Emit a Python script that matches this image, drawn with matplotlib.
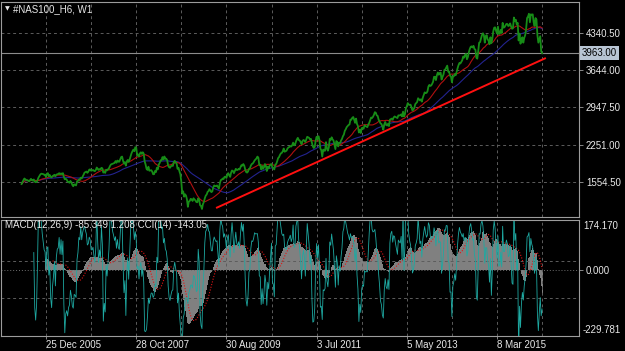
import numpy as np
import pandas as pd
from matplotlib import pyplot as plt
from matplotlib import transforms

plt.rcParams['font.family'] = ['Liberation Sans', 'DejaVu Sans']

# weekly closes, one list per year (bar 0 = week of 25 Dec 2005)
close_2005 = [1517, 1553, 1590, 1620, 1605, 1590, 1590, 1580, 1567, 1588, 1613, 1590, 1580, 1601,
              1560, 1550, 1555, 1590, 1637, 1668, 1695, 1710, 1707, 1702, 1690, 1692, 1645]
close_2006 = [1710, 1720, 1660, 1685, 1650, 1640, 1665, 1675, 1690, 1660, 1690, 1700, 1703,
              1720, 1700, 1715, 1701, 1720, 1650, 1605, 1615, 1600, 1560, 1555, 1540, 1575,
              1545, 1500, 1475, 1510, 1500, 1490, 1565, 1575, 1600, 1595, 1635, 1620, 1655,
              1690, 1730, 1740, 1750, 1725, 1745, 1785, 1790, 1765, 1770, 1780, 1765, 1757]
close_2007 = [1780, 1825, 1800, 1780, 1795, 1790, 1820, 1810, 1730, 1745, 1725, 1785, 1772,
              1790, 1810, 1850, 1880, 1890, 1895, 1905, 1910, 1945, 1915, 1955, 1935, 1934,
              1975, 2020, 2030, 1950, 1900, 1925, 1860, 1940, 1966, 1930, 1975, 2035, 2091,
              2130, 2160, 2130, 2205, 2200, 2050, 2070, 2030, 2090, 2110, 2080, 2110, 2085]
close_2008 = [1940, 1880, 1800, 1780, 1840, 1765, 1770, 1775, 1750, 1700, 1700, 1760, 1740,
              1820, 1790, 1880, 1910, 1960, 1960, 2020, 1975, 2031, 1990, 1990, 1960, 1860,
              1830, 1820, 1850, 1860, 1855, 1930, 1950, 1920, 1902, 1800, 1820, 1755, 1700,
              1560, 1340, 1380, 1280, 1325, 1300, 1230, 1090, 1190, 1200, 1240, 1230, 1200]
close_2009 = [1250, 1230, 1210, 1180, 1175, 1250, 1220, 1120, 1105, 1050, 1140, 1180, 1250,
              1300, 1320, 1370, 1385, 1420, 1390, 1365, 1380, 1454, 1490, 1480, 1475, 1490,
              1460, 1430, 1530, 1590, 1597, 1620, 1610, 1650, 1655, 1630, 1690, 1720, 1680,
              1650, 1730, 1770, 1760, 1720, 1760, 1800, 1780, 1780, 1800, 1790, 1830, 1870]
close_2010 = [1860, 1890, 1860, 1790, 1740, 1730, 1750, 1800, 1810, 1860, 1890, 1900, 1925,
              1957, 1975, 1995, 2030, 2010, 1870, 1880, 1790, 1850, 1800, 1830, 1890, 1860,
              1760, 1840, 1810, 1860, 1880, 1890, 1820, 1810, 1790, 1880, 1890, 1940, 2000,
              2020, 2060, 2090, 2100, 2130, 2180, 2120, 2130, 2140, 2180, 2200, 2210, 2225, 2218]
close_2011 = [2240, 2290, 2240, 2250, 2310, 2350, 2380, 2340, 2330, 2300, 2260, 2320, 2340,
              2330, 2300, 2350, 2400, 2390, 2380, 2350, 2360, 2290, 2220, 2190, 2210, 2330,
              2400, 2360, 2410, 2340, 2180, 2150, 2030, 2160, 2140, 2140, 2300, 2180, 2140,
              2200, 2360, 2340, 2390, 2350, 2330, 2250, 2170, 2320, 2300, 2220, 2290, 2278]
close_2012 = [2330, 2360, 2410, 2440, 2510, 2540, 2580, 2600, 2620, 2630, 2720, 2720, 2755,
              2770, 2720, 2660, 2740, 2640, 2600, 2480, 2530, 2470, 2560, 2570, 2550, 2616,
              2600, 2590, 2580, 2630, 2660, 2710, 2760, 2750, 2773, 2810, 2860, 2850, 2800,
              2790, 2720, 2690, 2650, 2640, 2590, 2530, 2630, 2677, 2630, 2610, 2640, 2600]
close_2013 = [2720, 2730, 2740, 2720, 2760, 2780, 2770, 2760, 2750, 2800, 2800, 2800, 2819,
              2780, 2870, 2780, 2820, 2930, 2970, 3030, 3000, 2997, 3000, 2950, 2890, 2910,
              2940, 3010, 3030, 3050, 3120, 3100, 3080, 3100, 3057, 3130, 3180, 3230, 3220,
              3220, 3250, 3340, 3370, 3350, 3360, 3390, 3430, 3521, 3520, 3460, 3550, 3600]
close_2014 = [3560, 3590, 3600, 3470, 3519, 3560, 3650, 3660, 3697, 3730, 3620, 3620, 3540,
              3530, 3420, 3520, 3530, 3570, 3550, 3610, 3680, 3737, 3780, 3770, 3800, 3830,
              3900, 3880, 3930, 3950, 3850, 3890, 3980, 4040, 4082, 4090, 4070, 4100, 4040,
              4030, 3880, 3860, 4000, 4160, 4170, 4240, 4300, 4335, 4300, 4160, 4280, 4300]
close_2015 = [4220, 4200, 4130, 4260, 4151, 4230, 4370, 4440, 4446, 4380, 4330, 4460, 4320,
              4330, 4400, 4340, 4530, 4440, 4450, 4480, 4510, 4509, 4470, 4480, 4520, 4460,
              4420, 4430, 4630, 4560, 4589, 4500, 4530, 4200, 4330, 4140, 4220, 4260, 4160,
              4250, 4300, 4420, 4620, 4648, 4700, 4540, 4690, 4680, 4690, 4540, 4470, 4620]
close_2016 = [4593, 4300, 4160, 4220, 4280, 4000, 3963]
first_bar = -26

date_labels = ['25 Dec 2005', '28 Oct 2007', '30 Aug 2009', '3 Jul 2011', '5 May 2013', '8 Mar 2015']
date_bars = [0, 96, 192, 288, 384, 480]
grid_bars = list(range(0, 529, 48))

price_ticks = [4340.50, 3644.00, 2947.50, 2251.00, 1554.50]
last_price = 3963.00
trend_bars = [181, 532]
trend_prices = [1068, 3873]

osc_top, osc_bottom = 174.170, -229.781
osc_grid = [30.0, -96.0]
macd_text = 'MACD(12,26,9) -85.349 1.208 CCI(14) -143.05'

closes = (close_2005 + close_2006 + close_2007 + close_2008 + close_2009 + close_2010 +
          close_2011 + close_2012 + close_2013 + close_2014 + close_2015 + close_2016)
s = pd.Series(closes, dtype=float)
x = np.arange(len(s)) + first_bar

# indicators
ma_red = s.rolling(20, min_periods=1).mean()
ma_blue = s.rolling(50, min_periods=1).mean()
macd = s.ewm(span=12, adjust=False).mean() - s.ewm(span=26, adjust=False).mean()
macd[:25] = np.nan
signal = macd.rolling(9).mean()
sma14 = s.rolling(14).mean()
mad = s.rolling(14).apply(lambda v: np.mean(np.abs(v - v.mean())), raw=True)
cci = (s - sma14) / (0.015 * mad)

W, H = 625, 351
fig = plt.figure(figsize=(W / 100, H / 100), dpi=100, facecolor='black')

def pane(left, top, right, bottom):
    return fig.add_axes([left / W, 1 - bottom / H, (right - left) / W, (bottom - top) / H], facecolor='black')

ax1 = pane(1, 2, 579, 217)
ax2 = pane(1, 220, 579, 336)
xlim = ((1 - 46) / 0.9396, (579 - 46) / 0.9396)
grid_kw = dict(color='#5c5c5c', lw=0.7, dashes=(3, 3))
txt = '#e8e8e8'
fs = 7

for ax in (ax1, ax2):
    ax.set_xlim(*xlim)
    for sp in ax.spines.values():
        sp.set_color('#9c9c9c')
        sp.set_linewidth(0.8)
    ax.yaxis.tick_right()
    ax.tick_params(axis='y', colors='#9c9c9c', labelcolor=txt, labelsize=fs, length=3, width=0.6, pad=2)
    for b in grid_bars:
        ax.axvline(b, **grid_kw)

# price pane
ax1.set_ylim(900, 4920)
for p in price_ticks:
    ax1.axhline(p, **grid_kw)
ax1.set_yticks(price_ticks)
ax1.set_yticklabels(['%.2f' % p for p in price_ticks])
ax1.set_xticks([])
ax1.axhline(last_price, color='#8c8c8c', lw=0.8)
ax1.plot(x, ma_blue, color='#23238f', lw=0.8)
ax1.plot(x, ma_red, color='#b01010', lw=0.8)
ax1.plot(x, s, color='#178c17', lw=1.3)
ax1.plot(trend_bars, trend_prices, color='#ff1010', lw=1.4, solid_capstyle='butt')
tr1 = transforms.blended_transform_factory(ax1.transAxes, ax1.transData)
ax1.text(1 + 3 / 578, last_price, '%.2f' % last_price, transform=tr1, ha='left', va='center',
         fontsize=fs, color='black', bbox=dict(boxstyle='square,pad=0.2', fc='#b8c5d4', ec='none'))
ax1.text(4 / 578, 1 - 7 / 215, '\u25bc', transform=ax1.transAxes, fontsize=4.5, color=txt, va='center',
         family='DejaVu Sans')
ax1.text(12 / 578, 1 - 7 / 215, '#NAS100_H6, W1', transform=ax1.transAxes, fontsize=fs, color=txt, va='center')

# oscillator pane
ax2.set_ylim(osc_bottom, osc_top)
for g in osc_grid:
    ax2.axhline(g, **grid_kw)
ax2.axhline(0, color='#6e6e6e', lw=0.7, dashes=(1, 2))
ax2.bar(x, macd, width=1.0, color='#808080', linewidth=0)
ax2.plot(x, signal, color='#e01515', lw=0.8, dashes=(1, 1.5))
ax2.plot(x, cci, color='#1ea9a2', lw=0.6)
ax2.set_yticks([0.0])
ax2.set_yticklabels(['0.000'])
ax2.text(1 + 4 / 578, 1 - 1 / 116, '%.3f' % osc_top, transform=ax2.transAxes, ha='left', va='top', fontsize=fs, color=txt)
ax2.text(1 + 4 / 578, 1 / 116, '%.3f' % osc_bottom, transform=ax2.transAxes, ha='left', va='bottom', fontsize=fs, color=txt)
ax2.text(4 / 578, 1 - 5 / 116, macd_text, transform=ax2.transAxes, fontsize=fs, color=txt, va='center')
ax2.set_xticks(date_bars)
ax2.set_xticklabels(date_labels)
ax2.tick_params(axis='x', colors='#9c9c9c', labelcolor=txt, labelsize=fs, length=2, width=0.6, pad=1)
for lab in ax2.get_xticklabels():
    lab.set_ha('left')

fig.savefig('out.png', dpi=100, facecolor='black')
